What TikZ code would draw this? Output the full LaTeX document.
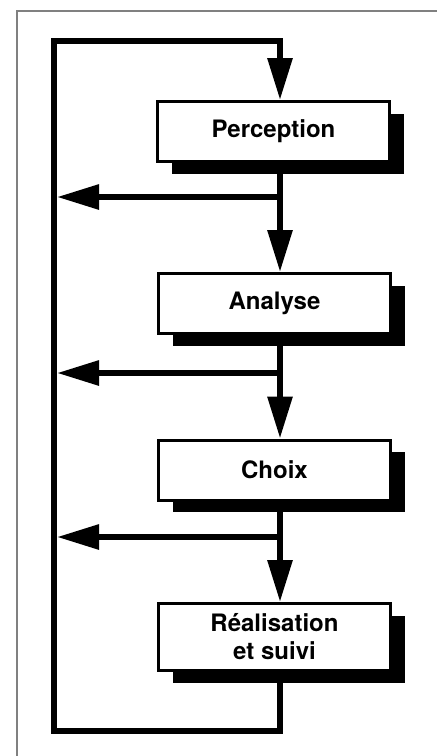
\documentclass[tikz,border=0pt]{standalone}
\usepackage{fontspec}
\setmainfont{TeX Gyre Heros}
\usetikzlibrary{arrows.meta,shapes,positioning,shadows}

\tikzset{
  stage/.style={draw, rectangle, line width=1.5pt, fill=white,
    minimum width=116pt, minimum height=30pt, align=center,
    font=\bfseries\fontsize{12}{14}\selectfont,
    drop shadow={shadow xshift=7pt, shadow yshift=-6pt, fill=black, opacity=1}},
  flow/.style={line width=3pt, line join=miter, -{Triangle[length=21pt,width=12pt]}},
  frame/.style={line width=0.6pt, gray}
}

\begin{document}
\begin{tikzpicture}[x=0.5pt,y=-0.5pt]
				\useasboundingbox (0,0) rectangle (437,756);
				\draw [frame] (17,756) -- (17,11) -- (437,11);

				\node (perception) at (273.5,131.5) [stage] {Perception};
				\node (analyse) at (274.5,303.5) [stage] {Analyse};
				\node (choix) at (274.5,470) [stage] {Choix};
				\node (realisation) at (274.5,637) [stage, minimum height=33.5pt] {Réalisation\\et suivi};

				% trunk and branch points
				\coordinate (tr) at (280,40.5);
				\coordinate (tl) at (53.5,40.5);
				\coordinate (bl) at (53.5,731);
				\coordinate (wall) at (57,0);
				\coordinate (b1) at (280,197);
				\coordinate (b2) at (280,373);
				\coordinate (b3) at (280,537);

				\draw [flow] (perception.south -| b1) -- (b1) -- (b1 |- analyse.north);
				\draw [flow] (analyse.south -| b2) -- (b2) -- (b2 |- choix.north);
				\draw [flow] (choix.south -| b3) -- (b3) -- (b3 |- realisation.north);

				\draw [flow] (b1) -- (b1 -| wall);
				\draw [flow] (b2) -- (b2 -| wall);
				\draw [flow] (b3) -- (b3 -| wall);

				% feedback loop
				\draw [flow] (realisation.south -| tr) |- (bl) -- (tl) -- (tr) -- (tr |- perception.north);
\end{tikzpicture}
\end{document}
